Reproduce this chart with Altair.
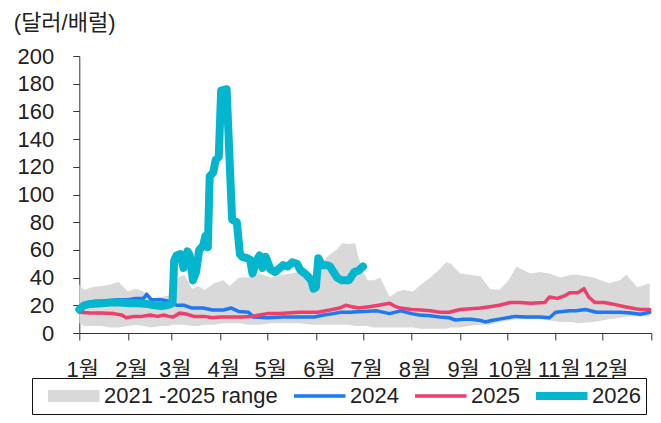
import json
import altair as alt
import pandas as pd

FONT = "Liberation Sans, Noto Sans CJK KR"

series = ["2021 -2025 range", "2024", "2025", "2026"]
colors = ["#d9d9d9", "#1f78f0", "#ec3f6b", "#04b5ce"]
month_labels = ["1월", "2월", "3월", "4월", "5월", "6월", "7월", "8월", "9월", "10월", "11월", "12월"]
y_ticks = [0, 20, 40, 60, 80, 100, 120, 140, 160, 180, 200]

# days since Jan 1
range_day = [0, 3, 8, 14, 20, 25, 31, 36, 41, 46, 52, 57, 60, 63, 67, 72, 76, 80, 86, 92, 96,
             102, 108, 115, 122, 130, 140, 150, 158, 164, 168, 172, 176, 178, 181, 184, 188,
             192, 198, 203, 207, 213, 218, 224, 230, 234, 237, 243, 249, 256, 262, 268, 274,
             279, 282, 288, 294, 300, 307, 314, 318, 328, 338, 345, 349, 356, 364]
range_high = [35, 31, 33, 34, 35, 37, 30, 32, 30, 25, 26, 27, 35, 40, 42, 32, 34, 31, 36, 38, 34,
              40, 40, 43, 40, 42, 44, 42, 55, 60, 65, 64, 65, 55, 45, 38, 38,
              40, 26, 30, 31, 30, 35, 40, 46, 51, 50, 43, 42, 41, 32, 31, 38,
              48, 46, 43, 44, 43, 40, 42, 42, 40, 36, 38, 42, 33, 36]
range_low = [7, 5, 5, 5, 4, 4, 5, 6, 5, 4, 5, 5, 6, 6, 6, 5, 5, 6, 6, 7, 7,
             7, 6, 6, 7, 7, 7, 6, 6, 6, 6, 6, 5, 5, 5, 5, 4,
             4, 4, 4, 4, 4, 3, 3, 3, 3, 4, 4, 5, 6, 6, 8, 9,
             10, 10, 10, 10, 9, 8, 8, 7, 8, 10, 11, 12, 12, 12]

y2024_day = [0, 5, 10, 17, 24, 31, 36, 41, 43, 46, 52, 57, 62, 67, 72, 79, 85, 92, 97, 102,
             108, 111, 120, 130, 140, 150, 156, 162, 167, 173, 181, 190, 198, 205, 212, 217,
             224, 230, 236, 240, 245, 250, 256, 259, 263, 268, 278, 285, 294, 300, 304, 313,
             317, 323, 330, 339, 345, 352, 358, 364]
y2024_val = [18, 20, 23, 23, 24, 24, 25, 25, 28, 24, 24, 23, 20, 20, 18, 18, 16.6, 16.6, 18, 15.5,
             15, 11.5, 11, 11.5, 11.5, 11.5, 13, 14, 15, 15, 15.5, 16, 14, 16, 14, 13,
             12.5, 11.5, 11, 9.4, 10, 10, 9, 8, 9, 10, 12, 11.5, 11.5, 11, 15, 16,
             16, 17, 15, 15, 15, 14.5, 13.5, 15]

y2025_day = [0, 7, 14, 22, 27, 30, 35, 40, 45, 50, 54, 57, 60, 64, 69, 73, 80, 85, 90, 97,
             104, 110, 115, 120, 127, 133, 140, 146, 152, 160, 166, 170, 174, 178, 185, 191,
             198, 202, 205, 212, 218, 224, 230, 236, 243, 250, 256, 262, 268, 275, 281, 288,
             297, 300, 305, 310, 313, 318, 322, 325, 329, 335, 340, 348, 355, 358, 364]
y2025_val = [15, 14.5, 14.4, 14, 13, 11, 12, 12, 13, 12, 13, 12, 11.5, 14.4, 13.5, 12, 12, 11, 11.5, 11.5,
             11.5, 12, 13, 14, 14, 14.4, 15, 15, 15, 16.6, 18, 20, 19, 18, 19, 20,
             21.5, 19, 18, 17, 16.6, 16, 15, 15, 17, 17.5, 18, 19, 20, 22, 22, 21.5,
             22, 26, 25, 27, 29, 29, 32, 26, 22, 22, 21, 19, 17.5, 17, 17]

y2026_day = [0, 3, 7, 14, 20, 26, 32, 38, 43, 48, 52, 56, 58.5, 59.5, 60.5, 62, 64.5, 66.5, 69,
             70.5, 72.5, 74.5, 76.5, 79, 80.5, 82, 83.2, 85.5, 87, 89, 90.5, 94, 97.5, 100.5,
             102.5, 104, 107, 109, 110.5, 113, 115, 117, 119, 122, 125, 128, 130, 133, 136,
             139, 141, 145, 148, 149.5, 151, 152.5, 155, 158, 160, 164.5, 167.5, 172, 175.5,
             178, 181]
y2026_val = [17, 20, 21, 21.5, 22, 22, 21.5, 21.5, 21, 20, 19.5, 20, 21, 22, 52, 56, 57, 47, 59,
             56, 38, 44, 60, 63, 70, 62, 113, 116, 125, 127, 175, 176, 82, 80,
             57, 55, 54, 53, 43, 52, 56, 47, 55, 46, 44, 47, 49, 48, 51,
             50, 45.5, 42, 38, 32, 33, 54, 49, 49, 48, 40, 38, 38, 44,
             45, 48]

base = pd.Timestamp("2026-01-01")


def to_dates(days):
    return base + pd.to_timedelta(days, unit="D")


range_df = pd.DataFrame({"date": to_dates(range_day), "low": range_low, "high": range_high})


def line_df(days, vals, name):
    return pd.DataFrame({"date": to_dates(days), "value": vals, "series": name})


df24 = line_df(y2024_day, y2024_val, "2024")
df25 = line_df(y2025_day, y2025_val, "2025")
df26 = line_df(y2026_day, y2026_val, "2026")

tick_dates = [alt.DateTime(year=2026, month=m, date=1) for m in range(1, 13)] + \
             [alt.DateTime(year=2027, month=1, date=1)]
label_expr = ("year(datum.value) > 2026 ? '' : "
              + json.dumps(month_labels, ensure_ascii=False) + "[month(datum.value)]")

x_axis = alt.Axis(values=tick_dates, labelExpr=label_expr, title=None, grid=False,
                  tickSize=7, labelPadding=19, labelFontSize=22, labelFont=FONT,
                  labelColor="#222", domainColor="#333", tickColor="#333",
                  labelAlign="center", labelOffset=3)
y_axis = alt.Axis(values=y_ticks, title="(달러/배럴)", grid=False, tickSize=6.5,
                  labelPadding=19, labelFontSize=22, labelFont=FONT, labelColor="#222",
                  domainColor="#333", tickColor="#333",
                  titleAngle=0, titleX=-66, titleY=-34, titleAlign="left",
                  titleBaseline="middle", titleFont=FONT, titleFontSize=22,
                  titleFontWeight="normal", titleColor="#222")

x_scale = alt.Scale(domain=[alt.DateTime(year=2026, month=1, date=1),
                            alt.DateTime(year=2027, month=1, date=1)])
y_scale = alt.Scale(domain=[0, 200], nice=False)

x_enc = alt.X("date:T", scale=x_scale, axis=x_axis)

color_scale = alt.Scale(domain=series, range=colors)
legend = alt.Legend(
    title=" ", titleOrient="left", titleFontSize=1, titlePadding=11,
    orient="none", legendX=-47.3, legendY=322, direction="horizontal",
    columns=4, symbolType="stroke", symbolSize=3249, clipHeight=26, symbolOffset=12,
    labelOffset=22, columnPadding=16, padding=5, strokeColor="#111", fillColor="#ffffff",
    labelFont=FONT, labelFontSize=22, labelColor="#222", symbolOpacity=1, labelLimit=400,
    symbolStrokeWidth={"expr": "datum.value === '2026' ? 8 : (datum.value === '2021 -2025 range' ? 12 : 3.5)"},
)

area = alt.Chart(range_df).mark_area(color="#d9d9d9", opacity=1).encode(
    x=x_enc,
    y=alt.Y("low:Q", scale=y_scale, axis=y_axis),
    y2="high:Q",
)


def line_layer(df, width):
    return alt.Chart(df).mark_line(strokeWidth=width, strokeCap="round", strokeJoin="round").encode(
        x=x_enc,
        y=alt.Y("value:Q", scale=y_scale, axis=y_axis),
        color=alt.Color("series:N", scale=color_scale, legend=legend),
    )


chart = alt.layer(
    area,
    line_layer(df24, 3.5),
    line_layer(df25, 3.5),
    line_layer(df26, 8),
).properties(
    width=572, height=277,
    padding={"left": 71.3, "top": 48, "right": 1.7, "bottom": 82},
    autosize=alt.AutoSizeParams(type="none"),
).configure_view(stroke=None)

chart.save("out.html", embed_options={"renderer": "svg", "actions": False})
